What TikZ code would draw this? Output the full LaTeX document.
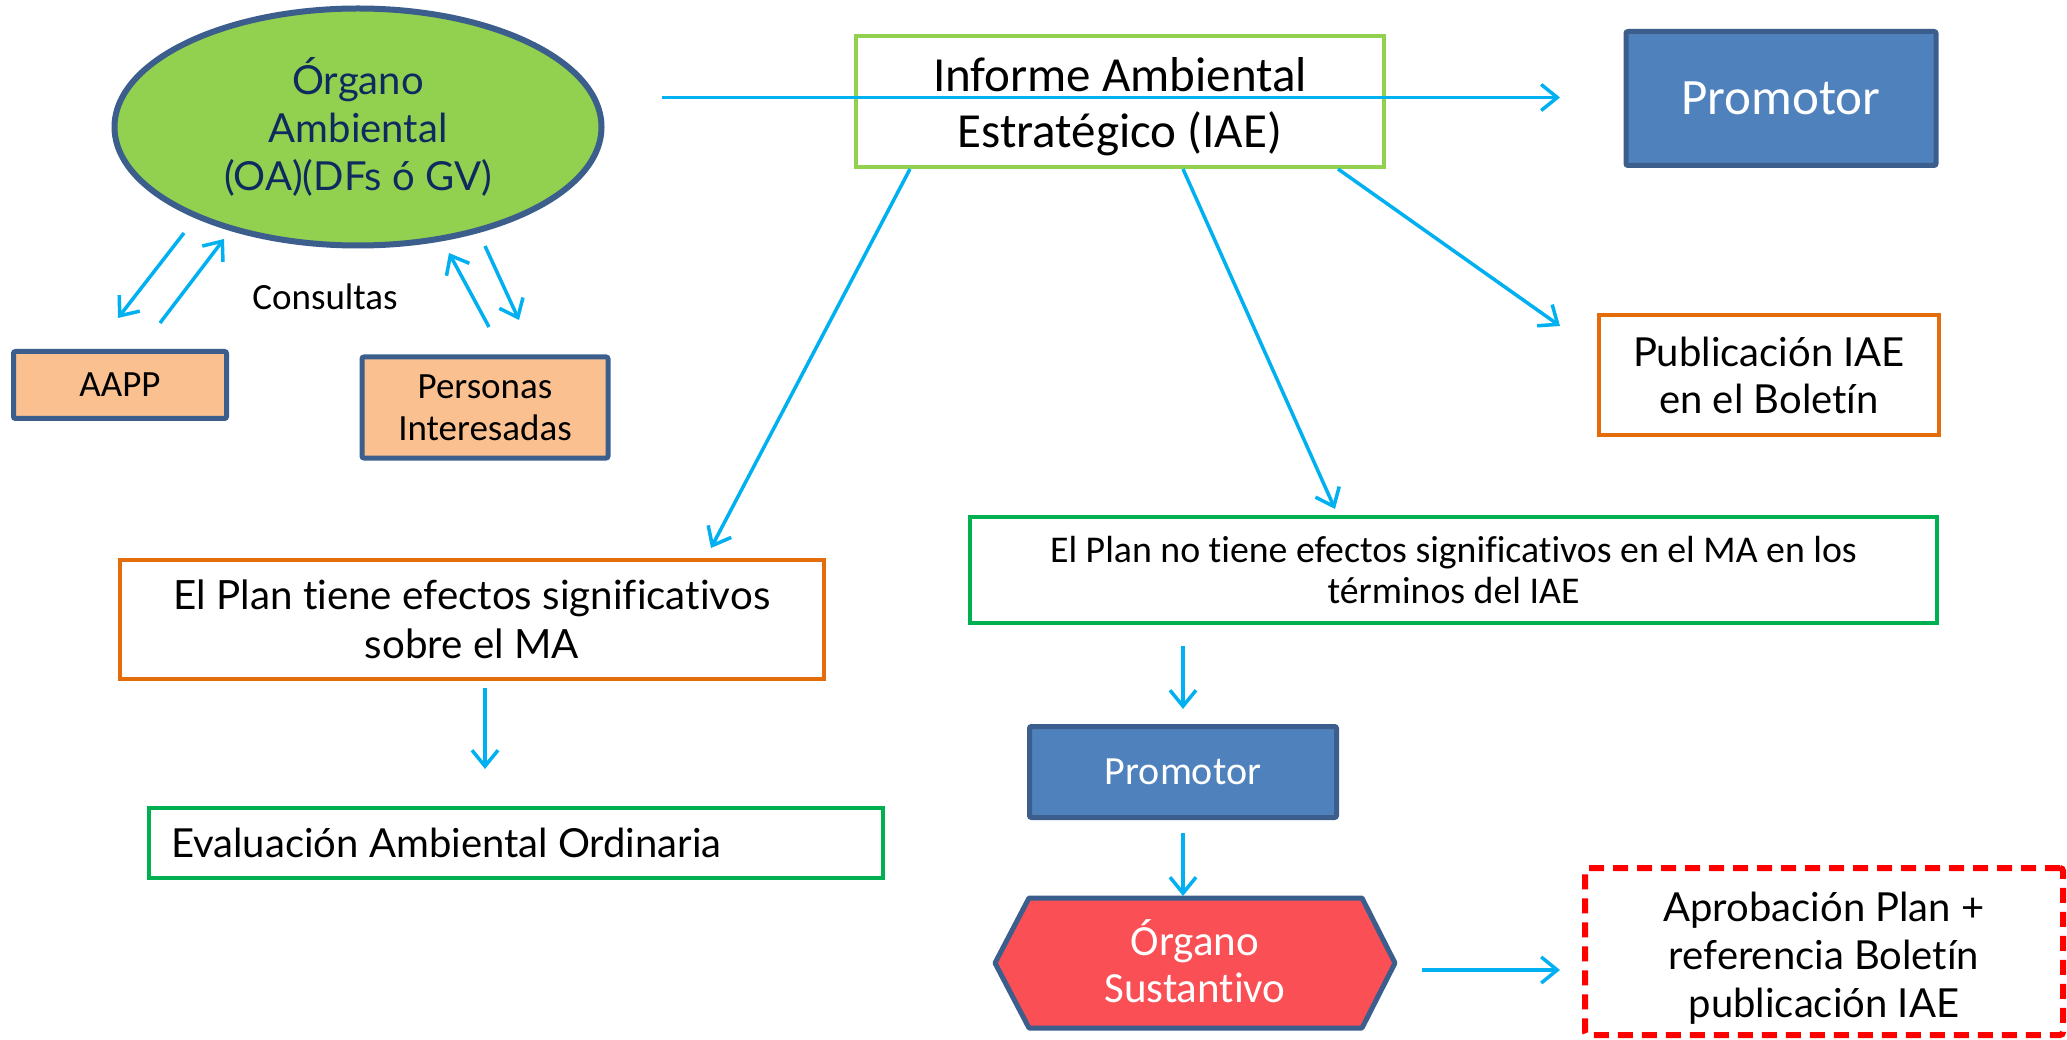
\documentclass[tikz,border=0pt]{standalone}
\usepackage{fontspec}
\setmainfont{Lato}[Ligatures=NoCommon]
\newfontfamily\calfont{Carlito}[Ligatures=NoCommon]
\usetikzlibrary{arrows.meta,shapes.geometric}
\definecolor{arrowblue}{HTML}{00B0F0}
\definecolor{oagreen}{HTML}{92D050}
\definecolor{darkblue}{HTML}{3B5E8C}
\definecolor{navytext}{HTML}{0F2A5E}
\definecolor{peach}{HTML}{FAC090}
\definecolor{orangeline}{HTML}{E46C0A}
\definecolor{midblue}{HTML}{4F81BD}
\definecolor{greenline}{HTML}{00B050}
\definecolor{redfill}{HTML}{F94F55}
\definecolor{reddash}{HTML}{FF0000}
\begin{document}
\begin{tikzpicture}[x=1pt,y=-1pt,
  arr/.style={draw=arrowblue, line width=3.5pt, -{Straight Barb[length=16pt,width=26pt]}},
  bluebox/.style={draw=darkblue, line width=5pt, fill=midblue, rounded corners=2pt, text=white, inner sep=0pt, align=center},
  peachbox/.style={draw=darkblue, line width=5pt, fill=peach, rounded corners=2pt, inner sep=0pt, align=center},
  orangebox/.style={draw=orangeline, line width=3.5pt, fill=white, inner sep=0pt, align=center},
  greenbox/.style={draw=greenline, line width=3.5pt, fill=white, inner sep=0pt, align=center}
]
\useasboundingbox[fill=white] (0,0) rectangle (2067,1040);

% Organo Ambiental ellipse
\node[ellipse, draw=darkblue, fill=oagreen, line width=6pt, minimum width=487pt, minimum height=237pt, inner sep=0pt, align=center, text=navytext,
  font=\fontsize{40}{48}\selectfont] (oa) at (358,127) {Órgano\\Ambiental\\(OA)(DFs ó GV)};

% Informe Ambiental Estrategico
\node[draw=oagreen, line width=3.5pt, minimum width=528pt, minimum height=131pt, inner sep=0pt, align=center,
  font=\calfont\fontsize{49}{56}\selectfont] (iae) at (1120,101.5) {};
\node[inner sep=0pt, align=center, font=\calfont\fontsize{49}{56}\selectfont] (iaetxt) at (1120,107) {Informe Ambiental\\Estratégico (IAE)};

% Promotor top
\node[bluebox, minimum width=310pt, minimum height=134pt, font=\calfont\fontsize{51}{56}\selectfont] (prom1) at (1781,98.5) {Promotor};

% Publicacion
\node[orangebox, minimum width=340pt, minimum height=120pt, font=\fontsize{40}{47}\selectfont] (pub) at (1769,375) {Publicación IAE\\en el Boletín};

% AAPP and Personas
\node[peachbox, minimum width=213pt, minimum height=67pt, font=\calfont\fontsize{37}{42}\selectfont] (aapp) at (120,385) {AAPP};
\node[peachbox, minimum width=246pt, minimum height=101pt, font=\calfont\fontsize{37}{42}\selectfont] (pers) at (485,407.5) {Personas\\Interesadas};
\node[inner sep=0pt, font=\calfont\fontsize{37}{42}\selectfont] (cons) at (325,297) {Consultas};

% No tiene efectos
\node[greenbox, minimum width=967pt, minimum height=106pt, font=\calfont\fontsize{37.8}{41}\selectfont] (notiene) at (1453.5,570)
  {El Plan no tiene efectos significativos en el MA en los\\términos del IAE};

% Tiene efectos
\node[orangebox, minimum width=704pt, minimum height=119pt, font=\fontsize{40.3}{49}\selectfont] (tiene) at (472,619.5)
  {El Plan tiene efectos significativos\\sobre el MA};

% Evaluacion
\node[greenbox, minimum width=734pt, minimum height=70pt] (eval) at (516,843) {};
\node[anchor=west, inner sep=0pt, font=\fontsize{40}{48}\selectfont] (evaltxt) at (171,843) {Evaluación Ambiental Ordinaria};

% Promotor bottom
\node[bluebox, minimum width=307pt, minimum height=91pt, font=\calfont\fontsize{40}{46}\selectfont] (prom2) at (1183,772) {Promotor};

% Organo Sustantivo hexagon
\draw[draw=darkblue, fill=redfill, line width=5pt, line join=round]
  (995,963) -- (1029,898) -- (1362,898) -- (1395,963) -- (1362,1028) -- (1029,1028) -- cycle;
\node[minimum width=333pt, minimum height=130pt, inner sep=0pt, align=center, text=white,
  font=\calfont\fontsize{43}{47}\selectfont] (os) at (1195,961) {Órgano\\Sustantivo};

% Aprobacion
\node[draw=reddash, line width=6pt, dash pattern=on 15pt off 9pt, rounded corners=3pt, minimum width=478pt, minimum height=167pt, inner sep=0pt] (apr) at (1824,951.5) {};
\node[inner sep=0pt, align=center, font=\fontsize{40}{48}\selectfont] (aprtxt) at (1824,958) {Aprobación Plan +\\referencia Boletín\\publicación IAE};

% connector end points
\coordinate (h1) at (662,97.5);
\coordinate (h2) at (1560,97.5);
\coordinate (c1a) at (184,233);
\coordinate (c1b) at (118,318);
\coordinate (c2a) at (160,323);
\coordinate (c2b) at (224,239);
\coordinate (c3a) at (489,327);
\coordinate (c3b) at (449,253);
\coordinate (c4a) at (485,246);
\coordinate (c4b) at (519,320);
\coordinate (d1a) at (1338,169);
\coordinate (d1b) at (1560,326);
\coordinate (d2a) at (1183,169);
\coordinate (d2b) at (1335,509);
\coordinate (d3a) at (910,169);
\coordinate (d3b) at (711,548);
\coordinate (v1a) at (485,688);
\coordinate (v1b) at (485,769);
\coordinate (v2a) at (1183,646);
\coordinate (v2b) at (1183,709);
\coordinate (v3a) at (1183,833);
\coordinate (v3b) at (1183,896);
\coordinate (g1a) at (1422,970);
\coordinate (g1b) at (1560,970);

\draw[arr] (h1) -- (h2);
\draw[arr] (c1a) -- (c1b);
\draw[arr] (c2a) -- (c2b);
\draw[arr] (c3a) -- (c3b);
\draw[arr] (c4a) -- (c4b);
\draw[arr] (d1a) -- (d1b);
\draw[arr] (d2a) -- (d2b);
\draw[arr] (d3a) -- (d3b);
\draw[arr] (v1a) -- (v1b);
\draw[arr] (v2a) -- (v2b);
\draw[arr] (v3a) -- (v3b);
\draw[arr] (g1a) -- (g1b);
\end{tikzpicture}
\end{document}
